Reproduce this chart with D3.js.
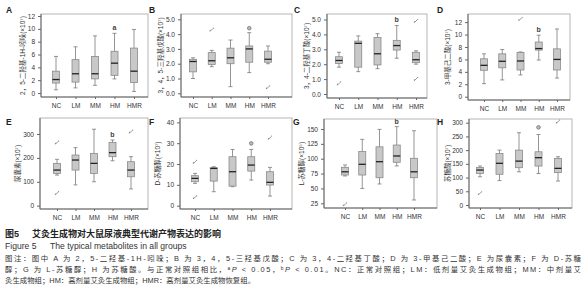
<!DOCTYPE html>
<html lang="zh">
<head>
<meta charset="UTF-8">
<title>图5 典型代谢产物</title>
<script src="https://d3js.org/d3.v7.min.js"></script>
<style>
  body { margin: 0; background: #fff; }
  svg { display: block; font-family: "Liberation Sans", Arial, "Noto Sans CJK SC", sans-serif; }
  .tick text { fill: #333; }
</style>
</head>
<body>
<div id="chart"></div>
<script>
// groups on the x axis
const groups = ["NC", "LM", "MM", "HM", "HMR"];

// box stats per group: [min, Q1, median, Q3, max]
const boxA = [[0.5, 1.55, 2.1, 3.4, 5.7], [0.8, 1.7, 3.0, 5.2, 7.2], [1.2, 2.2, 3.0, 5.7, 8.9], [2.2, 2.75, 4.65, 6.5, 9.3], [0.25, 1.65, 3.4, 7.0, 9.9]];
const boxB = [[1.0, 1.45, 2.15, 2.3, 2.4], [1.8, 1.95, 2.2, 2.75, 2.9], [0.45, 2.0, 2.4, 3.05, 3.6], [1.4, 2.1, 3.0, 3.2, 4.1], [2.0, 2.1, 2.3, 2.85, 3.2]];
const boxC = [[1.8, 2.05, 2.25, 2.5, 2.8], [1.5, 1.8, 3.4, 3.55, 3.9], [1.7, 1.95, 2.7, 3.8, 4.05], [2.4, 2.95, 3.25, 3.6, 4.6], [2.0, 2.1, 2.3, 2.8, 2.9]];
const boxD = [[2.1, 4.25, 5.05, 6.1, 6.9], [2.7, 4.65, 5.7, 6.9, 7.6], [3.5, 4.3, 5.75, 7.1, 7.2], [5.9, 7.5, 7.75, 8.8, 9.9], [3.0, 4.3, 6.0, 7.7, 10.9]];
const boxE = [[128, 135, 149, 177, 194], [87, 149, 191, 212, 243], [100, 135, 177, 219, 320], [188, 205, 222, 265, 275], [70, 121, 149, 184, 205]];
const boxF = [[10.7, 11.5, 13.1, 14.4, 15.5], [6.7, 11.8, 17.9, 18.2, 18.7], [9.1, 9.4, 16.3, 23.5, 27], [12.3, 16.6, 19.5, 23.5, 27], [4.6, 9.9, 11.2, 16.3, 18.4]];
const boxG = [[71, 72.6, 78, 85.5, 89.5], [50, 72.6, 90.6, 112, 132.6], [57.5, 68, 95, 120, 149.4], [87.8, 94, 104.6, 123, 154], [30.6, 68, 78, 100.7, 147]];
const boxH = [[103, 115, 127.5, 137, 142], [89, 112, 152, 188, 200], [121, 136, 160, 200, 263.5], [115, 142, 172.5, 194, 257], [87.5, 118, 133.6, 170, 176]];

// outliers: [group index, value, kind]  ("x" = extreme, "o" = circle)
const outA = [];
const outB = [[1, 4.3, "x"], [3, 4.4, "o"], [4, 0.4, "x"]];
const outC = [[0, 0.7, "x"], [4, 4.9, "x"], [4, 1.0, "x"]];
const outD = [[2, 12.5, "x"]];
const outE = [[0, 264, "x"], [0, 52, "x"], [4, 310, "x"]];
const outF = [[0, 21, "x"], [0, 4, "x"], [3, 29.9, "o"], [4, 32.6, "x"]];
const outG = [[0, 23, "x"]];
const outH = [[0, 42.5, "x"], [3, 283, "o"], [4, 303.6, "x"]];

// significance letters above the boxes
const sigA = ["", "", "", "a", ""];
const sigB = ["", "", "", "", ""];
const sigC = ["", "", "", "b", ""];
const sigD = ["", "", "", "b", ""];
const sigE = ["", "", "", "b", ""];
const sigF = ["", "", "", "", ""];
const sigG = ["", "", "", "b", ""];
const sigH = ["", "", "", "", ""];

// y tick labels
const ticksA = [0, 2, 4, 6, 8, 10, 12];
const ticksB = [0, 1, 2, 3, 4, 5];
const ticksC = [0, 1, 2, 3, 4, 5];
const ticksD = [0, 2, 4, 6, 8, 10, 12];
const ticksE = [0, 100, 200, 300];
const ticksF = [0, 10, 20, 30, 40];
const ticksG = [25, 50, 75, 100, 125, 150];
const ticksH = [0, 50, 100, 150, 200, 250, 300];

const titles = ["2，5-二羟基-1H-吲哚(×10⁷)", "3，4，5-三羟基戊酸(×10⁷)", "3，4-二羟基丁酸(×10⁷)", "3-甲基己二酸(×10⁷)",
                "尿囊素(×10⁷)", "D-苏糖醇(×10⁷)", "L-苏糖醇(×10⁵)", "苏糖酸(×10⁷)"];
const letters = ["A", "B", "C", "D", "E", "F", "G", "H"];

// panel frames and scale ranges
const panels = [
  {box: boxA, out: outA, sig: sigA, ticks: ticksA, dom: [-0.62, 12.31], l: 41, r: 148, t: 14, b: 97, x0: 56, x1: 134, tx: 23, lx: 6, ly: 13},
  {box: boxB, out: outB, sig: sigB, ticks: ticksB, dom: [-0.25, 5.36], l: 181, r: 292, t: 14, b: 97, x0: 193, x1: 268, tx: 161, lx: 149, ly: 13},
  {box: boxC, out: outC, sig: sigC, ticks: ticksC, dom: [-0.27, 5.37], l: 327, r: 427, t: 14, b: 98, x0: 339, x1: 416, tx: 307, lx: 294, ly: 13},
  {box: boxD, out: outD, sig: sigD, ticks: ticksD, dom: [-0.53, 13.31], l: 468, r: 570, t: 14, b: 100, x0: 484, x1: 557, tx: 448, lx: 437, ly: 13},
  {box: boxE, out: outE, sig: sigE, ticks: ticksE, dom: [-14, 367], l: 40, r: 148, t: 118, b: 209, x0: 57, x1: 131, tx: 18, lx: 6, ly: 125},
  {box: boxF, out: outF, sig: sigF, ticks: ticksF, dom: [-1.6, 42.1], l: 180, r: 292, t: 118, b: 209, x0: 195, x1: 270, tx: 158, lx: 149, ly: 125},
  {box: boxG, out: outG, sig: sigG, ticks: ticksG, dom: [17.1, 166.8], l: 324, r: 437, t: 119, b: 208, x0: 345, x1: 414, tx: 302, lx: 293, ly: 125},
  {box: boxH, out: outH, sig: sigH, ticks: ticksH, dom: [-10.9, 313.5], l: 469, r: 572, t: 119, b: 208, x0: 480, x1: 558, tx: 448, lx: 437, ly: 125}
];

const width = 586, height = 300;
const svg = d3.select("#chart").append("svg")
  .attr("width", width).attr("height", height);

const boxW = 7, capW = 4;

panels.forEach((p, k) => {
  const y = d3.scaleLinear().domain(p.dom).range([p.b, p.t]);
  const x = d3.scalePoint().domain(groups).range([p.x0, p.x1]);
  const g = svg.append("g");

  // frame: light top/right, darker axes
  g.append("rect").attr("x", p.l).attr("y", p.t).attr("width", p.r - p.l).attr("height", p.b - p.t)
    .attr("fill", "none").attr("stroke", "#b5b5b5").attr("stroke-width", 1);
  g.append("line").attr("x1", p.l).attr("x2", p.l).attr("y1", p.t).attr("y2", p.b).attr("stroke", "#666");
  g.append("line").attr("x1", p.l).attr("x2", p.r).attr("y1", p.b).attr("y2", p.b).attr("stroke", "#666");

  // axes
  const ya = g.append("g").attr("transform", `translate(${p.l},0)`)
    .call(d3.axisLeft(y).tickValues(p.ticks).tickSize(3).tickPadding(3));
  ya.select(".domain").remove();
  ya.selectAll(".tick line").attr("stroke", "#666");
  ya.selectAll("text").attr("font-size", 6.5);

  const xa = g.append("g").attr("transform", `translate(0,${p.b})`)
    .call(d3.axisBottom(x).tickSize(2).tickPadding(4));
  xa.select(".domain").remove();
  xa.selectAll(".tick line").attr("stroke", "#666");
  xa.selectAll("text").attr("font-size", 6.5);

  // whiskers
  const bx = g.selectAll(".bx").data(p.box).join("g")
    .attr("transform", (d, i) => `translate(${x(groups[i])},0)`);
  bx.append("line").attr("y1", d => y(d[0])).attr("y2", d => y(d[4]))
    .attr("stroke", "#7a7a7a").attr("stroke-width", 0.8);
  bx.append("line").attr("x1", -capW / 2).attr("x2", capW / 2).attr("y1", d => y(d[0])).attr("y2", d => y(d[0]))
    .attr("stroke", "#7a7a7a").attr("stroke-width", 0.8);
  bx.append("line").attr("x1", -capW / 2).attr("x2", capW / 2).attr("y1", d => y(d[4])).attr("y2", d => y(d[4]))
    .attr("stroke", "#7a7a7a").attr("stroke-width", 0.8);
  // boxes
  bx.append("rect").attr("x", -boxW / 2).attr("width", boxW)
    .attr("y", d => y(d[3])).attr("height", d => y(d[1]) - y(d[3]))
    .attr("fill", "#c8c8c8").attr("stroke", "#8a8a8a").attr("stroke-width", 0.8);
  bx.append("line").attr("x1", -boxW / 2).attr("x2", boxW / 2)
    .attr("y1", d => y(d[2])).attr("y2", d => y(d[2]))
    .attr("stroke", "#222").attr("stroke-width", 1.3);

  // outliers
  p.out.forEach(o => {
    const cx = x(groups[o[0]]), cy = y(o[1]);
    if (o[2] === "o") {
      g.append("circle").attr("cx", cx).attr("cy", cy).attr("r", 1.8)
        .attr("fill", "#bbb").attr("stroke", "#666").attr("stroke-width", 0.7);
    } else {
      g.append("path").attr("d", `M${cx - 1.6},${cy + 1.6}L${cx + 1.2},${cy - 1.2}M${cx - 1.6},${cy + 1.6}L${cx - 1.6},${cy + 0.2}`)
        .attr("stroke", "#666").attr("stroke-width", 0.7).attr("fill", "none");
      g.append("circle").attr("cx", cx + 1.7).attr("cy", cy - 1.7).attr("r", 0.5).attr("fill", "#666");
    }
  });

  // significance letters
  p.sig.forEach((s, i) => {
    if (!s) return;
    g.append("text").attr("x", x(groups[i])).attr("y", y(p.box[i][4]) - 3)
      .attr("text-anchor", "middle").attr("font-size", 7).attr("font-weight", "bold")
      .attr("fill", "#444").text(s);
  });

  // y title
  g.append("text")
    .attr("transform", `translate(${p.tx},${(p.t + p.b) / 2}) rotate(-90)`)
    .attr("text-anchor", "middle").attr("dy", "0.35em")
    .attr("font-size", 6.5).attr("fill", "#333").text(titles[k]);

  // panel letter
  svg.append("text").attr("x", p.lx).attr("y", p.ly)
    .attr("font-size", 8.5).attr("font-weight", "bold").attr("fill", "#222").text(letters[k]);
});

// caption
const cap = svg.append("g").attr("fill", "#333");
const t1 = cap.append("text").attr("x", 5).attr("y", 237).attr("font-size", 9).attr("font-weight", "bold").attr("fill", "#222");
t1.append("tspan").text("图5");
t1.append("tspan").attr("x", 32).text("艾灸生成物对大鼠尿液典型代谢产物表达的影响");
const t2 = cap.append("text").attr("y", 249).attr("font-size", 8.6);
t2.append("tspan").attr("x", 5).text("Figure 5");
t2.append("tspan").attr("x", 50).text("The typical metabolites in all groups");
cap.append("text").attr("x", 5).attr("y", 261).attr("font-size", 7.4).attr("textLength", 576).attr("lengthAdjust", "spacing")
  .text("图注：图中 A 为 2，5-二羟基-1H-吲哚；B 为 3，4，5-三羟基戊酸；C 为 3，4-二羟基丁酸；D 为 3-甲基己二酸；E 为尿囊素；F 为 D-苏糖");
const l4 = cap.append("text").attr("x", 5).attr("y", 272).attr("font-size", 7.4).attr("textLength", 576).attr("lengthAdjust", "spacing");
l4.append("tspan").text("醇；G 为 L-苏糖醇；H 为苏糖酸。与正常对照组相比，");
l4.append("tspan").attr("font-size", 4.8).attr("baseline-shift", "super").text("a");
l4.append("tspan").attr("font-style", "italic").text("P");
l4.append("tspan").text(" < 0.05，");
l4.append("tspan").attr("font-size", 4.8).attr("baseline-shift", "super").text("b");
l4.append("tspan").attr("font-style", "italic").text("P");
l4.append("tspan").text(" < 0.01。NC：正常对照组；LM：低剂量艾灸生成物组；MM：中剂量艾");
cap.append("text").attr("x", 5).attr("y", 283).attr("font-size", 7.4)
  .text("灸生成物组；HM：高剂量艾灸生成物组；HMR：高剂量艾灸生成物恢复组。");
</script>
</body>
</html>
